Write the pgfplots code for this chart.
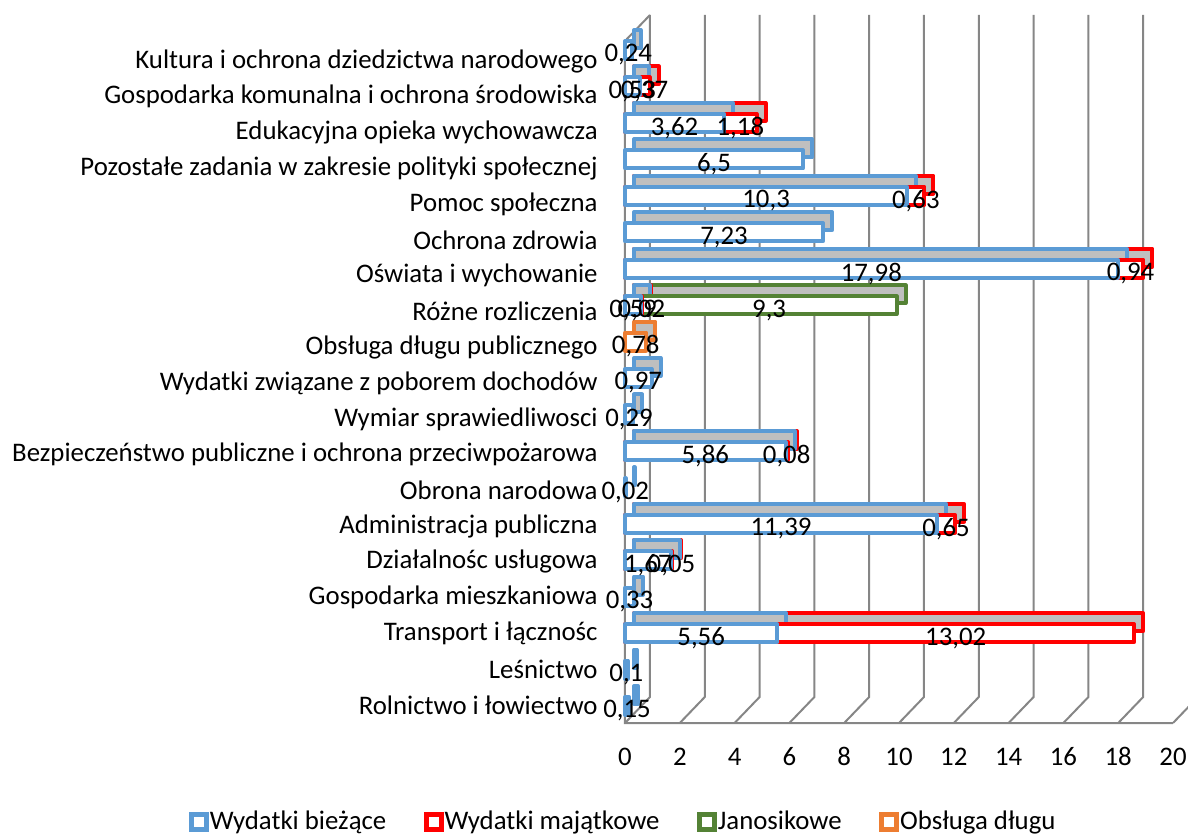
\documentclass[border=0pt]{standalone}
\usepackage{pgfplots}
\usepackage{pgfplotstable}
\pgfplotsset{compat=1.18}
\usepackage{fontspec}
\setmainfont{Carlito}
\newcommand\ff{\fontsize{13.4}{16}\selectfont}
\definecolor{cblue}{RGB}{91,155,213}
\definecolor{cred}{RGB}{255,0,0}
\definecolor{cgreen}{RGB}{84,130,53}
\definecolor{corange}{RGB}{237,125,49}
\definecolor{cgrid}{RGB}{134,134,134}
\definecolor{ctop}{RGB}{191,191,191}

\pgfplotstableread{
cat start val
0 0 0.15
1 0 0.1
2 0 5.56
3 0 0.33
4 0 1.67
5 0 11.39
6 0 0.02
7 0 5.86
8 0 0.29
9 0 0.97
11 0 0.59
12 0 17.98
13 0 7.23
14 0 10.3
15 0 6.5
16 0 3.62
17 0 0.53
18 0 0.24
}\biezace
\pgfplotstableread{
cat start val
2 5.56 13.02
4 1.67 0.05
5 11.39 0.65
7 5.86 0.08
11 0.59 0.02
12 17.98 0.94
14 10.3 0.63
16 3.62 1.18
17 0.53 0.37
}\majatkowe
\pgfplotstableread{
cat start val
11 0.61 9.3
}\janosikowe
\pgfplotstableread{
cat start val
10 0 0.78
}\obsluga

\pgfplotsset{
  base/.style={scale only axis, width=274pt, height=341pt,
    xmin=0, xmax=20, ymin=-0.5, ymax=18.56, clip=false},
  barax/.style={base, hide axis, ymin=-0.4665, ymax=18.247},
  bars/.style={xbar, bar width=9pt, bar shift=0pt, line width=2pt,
    draw=#1, line join=round, forget plot},
  labs/.style={draw=none, mark=none, forget plot, nodes near coords,
    point meta=explicit,
    every node near coord/.append style={anchor=center, font=\ff, text=black, inner sep=0pt, yshift=-2.5pt}},
}

\begin{document}
\begin{tikzpicture}
\useasboundingbox (-312.5pt,-56.5pt) rectangle (281.5pt,361.5pt);
% frame: grid, tick labels
\begin{axis}[base,
  axis line style={draw=none}, major tick length=0pt,
  xtick={0,2,...,20}, ytick={0,...,18},
  /pgf/number format/assume math mode=true,
  xticklabel style={font=\ff, anchor=base, inner sep=0pt, yshift=-21pt},
  yticklabel style={font=\ff, anchor=east, inner sep=0pt, xshift=-13.5pt},
  yticklabels={Rolnictwo i łowiectwo, Leśnictwo, Transport i łącznośc, Gospodarka mieszkaniowa, Działalnośc usługowa, Administracja publiczna, Obrona narodowa, Bezpieczeństwo publiczne i ochrona przeciwpożarowa, Wymiar sprawiedliwosci, Wydatki związane z poborem dochodów, Obsługa długu publicznego, Różne rozliczenia, Oświata i wychowanie, Ochrona zdrowia, Pomoc społeczna, Pozostałe zadania w zakresie polityki społecznej, Edukacyjna opieka wychowawcza, Gospodarka komunalna i ochrona środowiska, Kultura i ochrona dziedzictwa narodowego},
]
\pgfplotsinvokeforeach{0,2,...,20}{
  \draw[cgrid, line width=1pt] (axis cs:#1,-0.5) -- ([shift={(12.5pt,13pt)}]axis cs:#1,-0.5) -- ([shift={(12.5pt,13pt)}]axis cs:#1,18.56);
}
\draw[cgrid, line width=1pt] ([shift={(12.5pt,13pt)}]axis cs:0,18.56) -- (axis cs:0,18.56) -- (axis cs:0,-0.5) -- (axis cs:20,-0.5);
\end{axis}
% back (depth) faces
\begin{axis}[barax, xshift=4.5pt, yshift=5.5pt]
\addplot[bars=corange, fill=ctop] table[x expr=\thisrow{start}+\thisrow{val}, y=cat] {\obsluga};
\addplot[bars=cgreen, fill=ctop] table[x expr=\thisrow{start}+\thisrow{val}, y=cat] {\janosikowe};
\addplot[bars=cred, fill=ctop] table[x expr=\thisrow{start}+\thisrow{val}, y=cat] {\majatkowe};
\addplot[bars=cblue, fill=ctop] table[x expr=\thisrow{start}+\thisrow{val}, y=cat] {\biezace};
\end{axis}
% front faces, labels, legend
\begin{axis}[barax,
  /pgf/number format/.cd, use comma, fixed, precision=2, assume math mode=true, /pgfplots/.cd,
  legend columns=4,
  legend image code/.code={\draw[#1, fill=white, line width=2.4pt] (0pt,-3.75pt) rectangle (7.5pt,3.75pt);},
  legend style={at={(-0.004,-0.145)}, anchor=center, draw=none, fill=none, font=\ff,
    nodes={inner sep=0.4pt},
    /tikz/every even column/.append style={column sep=18.5pt}},
]
\addplot[bars=corange, fill=white] table[x expr=\thisrow{start}+\thisrow{val}, y=cat] {\obsluga};
\addplot[bars=cgreen, fill=white] table[x expr=\thisrow{start}+\thisrow{val}, y=cat] {\janosikowe};
\addplot[bars=cred, fill=white] table[x expr=\thisrow{start}+\thisrow{val}, y=cat] {\majatkowe};
\addplot[bars=cblue, fill=white] table[x expr=\thisrow{start}+\thisrow{val}, y=cat] {\biezace};
\addplot[labs] table[x expr=\thisrow{start}+0.5*\thisrow{val}, y=cat, meta=val] {\biezace};
\addplot[labs] table[x expr=\thisrow{start}+0.5*\thisrow{val}, y=cat, meta=val] {\majatkowe};
\addplot[labs] table[x expr=\thisrow{start}+0.5*\thisrow{val}, y=cat, meta=val] {\janosikowe};
\addplot[labs] table[x expr=\thisrow{start}+0.5*\thisrow{val}, y=cat, meta=val] {\obsluga};
\addlegendimage{draw=cblue}\addlegendentry{Wydatki bieżące}
\addlegendimage{draw=cred}\addlegendentry{Wydatki majątkowe}
\addlegendimage{draw=cgreen}\addlegendentry{Janosikowe}
\addlegendimage{draw=corange}\addlegendentry{Obsługa długu}
\end{axis}
\end{tikzpicture}
\end{document}
